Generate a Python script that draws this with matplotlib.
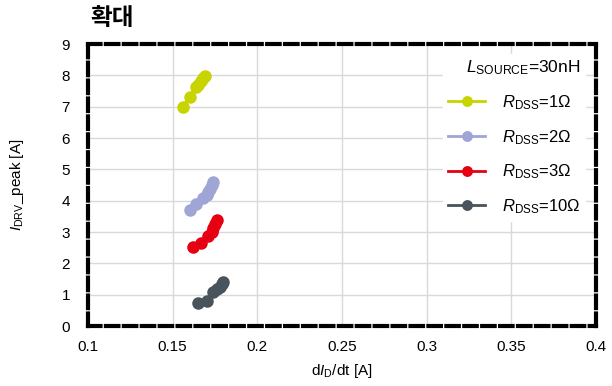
import numpy as np
import matplotlib
matplotlib.use("Agg")
import matplotlib.pyplot as plt

plt.rcParams['font.family'] = ['Liberation Sans', 'Noto Sans CJK KR']
plt.rcParams['mathtext.fontset'] = 'custom'
plt.rcParams['mathtext.rm'] = 'Liberation Sans'
plt.rcParams['mathtext.it'] = 'Liberation Sans:italic'

# data
r1_x = [0.156, 0.160, 0.164, 0.165, 0.167, 0.168, 0.169]
r1_y = [7.00, 7.30, 7.62, 7.70, 7.82, 7.90, 7.97]
r2_x = [0.160, 0.164, 0.168, 0.170, 0.171, 0.172, 0.173, 0.174]
r2_y = [3.70, 3.88, 4.08, 4.18, 4.28, 4.38, 4.50, 4.60]
r3_x = [0.162, 0.167, 0.171, 0.173, 0.174, 0.175, 0.176]
r3_y = [2.52, 2.65, 2.87, 3.00, 3.12, 3.25, 3.38]
r10_x = [0.165, 0.170, 0.174, 0.176, 0.178, 0.179, 0.180]
r10_y = [0.75, 0.80, 1.08, 1.18, 1.25, 1.33, 1.40]

series = [
    (r1_x, r1_y, '#c8d400', r'$\mathit{R}_{\mathrm{DSS}}$=1Ω'),
    (r2_x, r2_y, '#9fa5d5', r'$\mathit{R}_{\mathrm{DSS}}$=2Ω'),
    (r3_x, r3_y, '#e60012', r'$\mathit{R}_{\mathrm{DSS}}$=3Ω'),
    (r10_x, r10_y, '#48535b', r'$\mathit{R}_{\mathrm{DSS}}$=10Ω'),
]

fig = plt.figure(figsize=(6.12, 3.86), dpi=100)
ax = fig.add_axes([88/612, 60/386, 508/612, 282/386])

for x, y, c, lab in series:
    ax.plot(x, y, color=c, marker='o', markersize=8, linewidth=2, label=lab)

ax.set_xlim(0.1, 0.4)
ax.set_ylim(0, 9)
ax.set_xticks(np.arange(0.1, 0.401, 0.05))
ax.set_xticklabels(['0.1', '0.15', '0.2', '0.25', '0.3', '0.35', '0.4'])
ax.set_yticks(range(0, 10))
ax.grid(True, color='#d9d9d9', linewidth=1)
ax.set_axisbelow(True)
ax.tick_params(length=0, labelsize=11)
ax.tick_params(axis='x', pad=10)
ax.tick_params(axis='y', pad=13)

for s in ax.spines.values():
    s.set_linewidth(3)
    s.set_linestyle((0, (3, 1.3)))
    s.set_color('black')

ax.set_xlabel(r'd$\mathit{I}_{\mathrm{D}}$/dt [A]', fontsize=11)
ax.set_ylabel(r'$\mathit{I}_{\mathrm{DRV}}$_peak [A]', fontsize=11)
ax.xaxis.set_label_coords(0.5, -(371 - 326) / 282, transform=ax.transAxes)
ax.yaxis.set_label_coords(-(88 - 17) / 508, 0.5, transform=ax.transAxes)
ax.xaxis.label.set_va('center')
ax.yaxis.label.set_va('center')

leg = ax.legend(loc='upper right', title=r'$\mathit{L}_{\mathrm{SOURCE}}$=30nH',
                fontsize=12, title_fontsize=12.5, frameon=True, fancybox=False,
                edgecolor='white', framealpha=1, handlelength=2.2,
                handletextpad=1.0, labelspacing=0.95, borderpad=0.3,
                markerscale=0.85, bbox_to_anchor=(0.995, 0.995))
leg._legend_box.align = 'right'
for h in leg.get_lines():
    h.set_linewidth(2)

fig.text(90/612, 1 - 18/386, '확대', fontsize=17, fontweight='bold',
         family=['Noto Sans CJK KR'], va='center', ha='left')

fig.savefig('out.png', dpi=100)
